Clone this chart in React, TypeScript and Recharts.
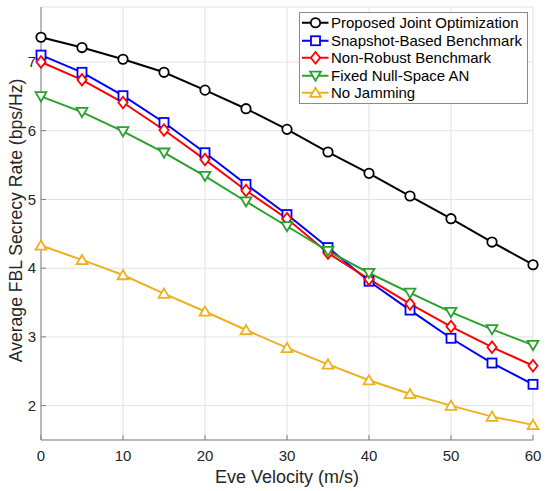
import { LineChart, Line, XAxis, YAxis, CartesianGrid, Legend } from "recharts";

const velocities = [0, 5, 10, 15, 20, 25, 30, 35, 40, 45, 50, 55, 60];
const proposed = [7.36, 7.21, 7.04, 6.85, 6.59, 6.32, 6.02, 5.69, 5.38, 5.05, 4.72, 4.38, 4.05];
const snapshot = [7.1, 6.85, 6.51, 6.12, 5.68, 5.22, 4.78, 4.3, 3.81, 3.39, 2.98, 2.62, 2.31];
const nonRobust = [7.0, 6.74, 6.41, 6.01, 5.58, 5.13, 4.72, 4.22, 3.84, 3.48, 3.15, 2.85, 2.58];
const fixedNull = [6.5, 6.27, 5.99, 5.68, 5.34, 4.97, 4.61, 4.25, 3.93, 3.64, 3.36, 3.11, 2.88];
const noJamming = [4.33, 4.12, 3.9, 3.63, 3.37, 3.1, 2.84, 2.6, 2.37, 2.17, 2.0, 1.84, 1.72];

const xTicks = [0, 10, 20, 30, 40, 50, 60];
const yTicks = [2, 3, 4, 5, 6, 7];

const series = [
  { key: "proposed", name: "Proposed Joint Optimization", color: "#000000", marker: "circle" },
  { key: "snapshot", name: "Snapshot-Based Benchmark", color: "#0000ff", marker: "square" },
  { key: "nonRobust", name: "Non-Robust Benchmark", color: "#ff0000", marker: "diamond" },
  { key: "fixedNull", name: "Fixed Null-Space AN", color: "#2ca02c", marker: "triangleDown" },
  { key: "noJamming", name: "No Jamming", color: "#edb120", marker: "triangleUp" },
];

const data = velocities.map((v, i) => ({
  v,
  proposed: proposed[i],
  snapshot: snapshot[i],
  nonRobust: nonRobust[i],
  fixedNull: fixedNull[i],
  noJamming: noJamming[i],
}));

const FONT = "Arial, 'Liberation Sans', sans-serif";
const AXIS = "#808080";

function Marker({ kind, cx, cy, color }: { kind: string; cx: number; cy: number; color: string }) {
  const common = { fill: "#ffffff", stroke: color, strokeWidth: 1.8 };
  if (kind === "circle") return <circle cx={cx} cy={cy} r={4.7} {...common} />;
  if (kind === "square") return <rect x={cx - 4.5} y={cy - 4.5} width={9} height={9} {...common} />;
  if (kind === "diamond")
    return <polygon points={`${cx},${cy - 5.8} ${cx + 4.6},${cy} ${cx},${cy + 5.8} ${cx - 4.6},${cy}`} {...common} />;
  if (kind === "triangleDown")
    return <polygon points={`${cx - 5.4},${cy - 4.2} ${cx + 5.4},${cy - 4.2} ${cx},${cy + 5}`} {...common} />;
  return <polygon points={`${cx - 5.4},${cy + 4.2} ${cx + 5.4},${cy + 4.2} ${cx},${cy - 5}`} {...common} />;
}

function LegendBox() {
  return (
    <div
      style={{
        border: "1px solid #8a8a8a",
        background: "#ffffff",
        width: 229,
        boxSizing: "border-box",
        padding: "1px 0",
        fontFamily: FONT,
        fontSize: 15,
        color: "#000000",
      }}
    >
      {series.map((s) => (
        <div key={s.key} style={{ display: "flex", alignItems: "center", height: 17.5 }}>
          <svg width={31} height={17.5} style={{ flex: "none" }}>
            <line x1={2} y1={8.75} x2={28.5} y2={8.75} stroke={s.color} strokeWidth={2} />
            <Marker kind={s.marker} cx={15.5} cy={8.75} color={s.color} />
          </svg>
          <span style={{ whiteSpace: "nowrap", lineHeight: "17.5px" }}>{s.name}</span>
        </div>
      ))}
    </div>
  );
}

export default function App() {
  return (
    <div style={{ position: "absolute", left: 0, top: 0 }}>
      <LineChart width={550} height={491} data={data} margin={{ top: 7, right: 17, left: 0, bottom: 0 }}>
        <CartesianGrid stroke="#e2e2e2" strokeWidth={1} />
        <XAxis
          dataKey="v"
          type="number"
          domain={[0, 60]}
          ticks={xTicks}
          height={51}
          stroke={AXIS}
          tickSize={-5}
          tickMargin={15.4}
          tick={{ fill: "#262626", fontSize: 15, fontFamily: FONT }}
          label={{
            content: ({ viewBox }: any) => (
              <text
                x={viewBox.x + viewBox.width / 2}
                y={viewBox.y + 42.7}
                textAnchor="middle"
                fill="#262626"
                fontSize={18}
                fontFamily={FONT}
              >
                Eve Velocity (m/s)
              </text>
            ),
          }}
        />
        <XAxis
          xAxisId="top"
          dataKey="v"
          type="number"
          orientation="top"
          domain={[0, 60]}
          ticks={xTicks}
          height={0}
          stroke={AXIS}
          tickSize={-5}
          tick={false}
        />
        <YAxis
          type="number"
          domain={[1.5, 7.8]}
          ticks={yTicks}
          width={41}
          stroke={AXIS}
          tickSize={-5}
          tickMargin={10}
          tick={{ fill: "#262626", fontSize: 15, fontFamily: FONT }}
          label={{
            content: ({ viewBox }: any) => {
              const x = viewBox.x + 21.5;
              const y = viewBox.y + viewBox.height / 2 - 3;
              return (
                <text
                  x={x}
                  y={y}
                  transform={`rotate(-90 ${x} ${y})`}
                  textAnchor="middle"
                  fill="#262626"
                  fontSize={17.6}
                  fontFamily={FONT}
                >
                  Average FBL Secrecy Rate (bps/Hz)
                </text>
              );
            },
          }}
        />
        <YAxis
          yAxisId="right"
          orientation="right"
          type="number"
          domain={[1.5, 7.8]}
          ticks={yTicks}
          width={0}
          stroke={AXIS}
          tickSize={-5}
          tick={false}
        />
        <Legend
          layout="vertical"
          align="center"
          verticalAlign="middle"
          wrapperStyle={{ top: 12, left: 299, width: 229 }}
          content={() => <LegendBox />}
        />
        {series.map((s) => (
          <Line
            key={s.key}
            dataKey={s.key}
            name={s.name}
            stroke={s.color}
            strokeWidth={2}
            isAnimationActive={false}
            dot={(p: any) => <Marker key={`${s.key}-${p.index}`} kind={s.marker} cx={p.cx} cy={p.cy} color={s.color} />}
            activeDot={false}
          />
        ))}
      </LineChart>
    </div>
  );
}
